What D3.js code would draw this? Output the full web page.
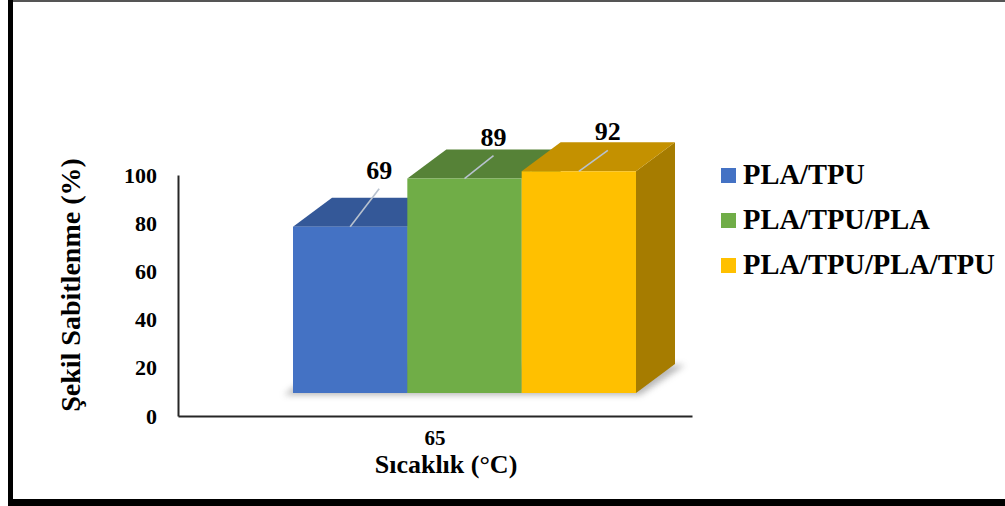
<!DOCTYPE html>
<html>
<head>
<meta charset="utf-8">
<script src="https://cdn.jsdelivr.net/npm/d3@7"></script>
<style>
  html, body { margin: 0; padding: 0; background: #fff; }
  svg { display: block; }
  text { font-family: "Liberation Serif", "Times New Roman", serif; font-weight: bold; fill: #000; }
</style>
</head>
<body>
<svg id="chart" width="1005" height="506"></svg>
<script>
// Shape fixity (%) at 65 °C for the three layer stacks
const categories = ["65"];
const seriesNames = ["PLA/TPU", "PLA/TPU/PLA", "PLA/TPU/PLA/TPU"];
const values = [69, 89, 92];
const yTicks = [0, 20, 40, 60, 80, 100];

// Styling: front, top and side shades per series
const frontColors = ["#4472c4", "#70ad47", "#ffc000"];
const topColors = ["#345898", "#568237", "#c49100"];
const sideColors = ["#2e4e86", "#4a7230", "#a67c00"];

const W = 1005, H = 506;
const svg = d3.select("#chart");

// Layout
const plot = { left: 178, right: 692, top: 175, bottom: 416 };
const depth = { dx: 39, dy: -29 };   // 3D extrusion of each column
const floorLift = 23;                 // front edge of the floor sits above the axis line
const barsOffset = 115;               // front face start inside the category band
const barsWidth = 343;
const labelLift = [48, 33, 31];       // data label distance above each column top

const y = d3.scaleLinear().domain([0, 100]).range([plot.bottom, plot.top]);
const xCat = d3.scaleBand().domain(categories).range([plot.left, plot.right]);
const xSer = d3.scaleBand().domain(seriesNames)
  .range([xCat(categories[0]) + barsOffset, xCat(categories[0]) + barsOffset + barsWidth]);

// Frame
svg.append("rect").attr("x", 8).attr("y", 0).attr("width", 5).attr("height", H).attr("fill", "#000");
svg.append("rect").attr("x", 13).attr("y", 0).attr("width", W - 13).attr("height", 2).attr("fill", "#555");
svg.append("rect").attr("x", 8).attr("y", 499).attr("width", W - 8).attr("height", 7).attr("fill", "#000");

// Soft floor shadow under the columns
const defs = svg.append("defs");
defs.append("filter").attr("id", "soft").attr("x", "-10%").attr("y", "-50%").attr("width", "120%").attr("height", "200%")
  .append("feGaussianBlur").attr("stdDeviation", 3);

const base = y(0) - floorLift;
const x0 = xSer(seriesNames[0]);
const x1 = xSer(seriesNames[seriesNames.length - 1]) + xSer.bandwidth();
svg.append("polygon")
  .attr("points", [
    [x0 - 9, base + 2], [x1 + 4, base + 2],
    [x1 + depth.dx + 10, base + depth.dy + 1], [x0 + depth.dx - 9, base + depth.dy + 1]
  ].map(p => p.join(",")).join(" "))
  .attr("fill", "#9a9a9a").attr("opacity", 0.7).attr("filter", "url(#soft)");

// Axes
const yAxis = svg.append("g").attr("transform", `translate(${plot.left},0)`)
  .call(d3.axisLeft(y).tickValues(yTicks).tickSize(0).tickSizeOuter(0).tickPadding(21));
yAxis.select(".domain").attr("stroke", "#262626").attr("stroke-width", 2);
yAxis.selectAll("text").style("font-size", "22px").attr("font-family", null);

const xAxis = svg.append("g").attr("transform", `translate(0,${plot.bottom})`)
  .call(d3.axisBottom(xCat).tickSize(0).tickSizeOuter(0).tickPadding(14));
xAxis.select(".domain").attr("stroke", "#262626").attr("stroke-width", 2);
xAxis.selectAll("text").style("font-size", "21px").attr("font-family", null);

// Columns (drawn left to right so each front face hides its neighbour's side)
const bars = svg.append("g");
const pts = arr => arr.map(p => p.join(",")).join(" ");
seriesNames.forEach((name, i) => {
  const v = values[i];
  const xl = xSer(name), xr = xl + xSer.bandwidth();
  const yt = y(v) - floorLift;
  const g = bars.append("g");
  // side face
  g.append("polygon").attr("fill", sideColors[i])
    .attr("points", pts([[xr, yt], [xr + depth.dx, yt + depth.dy], [xr + depth.dx, base + depth.dy], [xr, base]]));
  // top face
  g.append("polygon").attr("fill", topColors[i])
    .attr("points", pts([[xl, yt], [xr, yt], [xr + depth.dx, yt + depth.dy], [xl + depth.dx, yt + depth.dy]]));
  // front face
  g.append("rect").attr("x", xl).attr("y", yt).attr("width", xr - xl).attr("height", base - yt)
    .attr("fill", frontColors[i]);
});

// Data labels with leader lines
seriesNames.forEach((name, i) => {
  const v = values[i];
  const cx = xSer(name) + xSer.bandwidth() / 2;
  const yt = y(v) - floorLift;
  const ly = yt - labelLift[i];
  const endX = cx + 29, endY = ly + 10;
  svg.append("line").attr("x1", cx).attr("y1", yt).attr("x2", endX).attr("y2", endY)
    .attr("stroke", "#b8c2cf").attr("stroke-width", 1.6);
  svg.append("text").attr("x", endX).attr("y", ly).attr("text-anchor", "middle")
    .style("font-size", "26px").text(v);
});

// Axis titles
svg.append("text").attr("transform", "translate(80,285) rotate(-90)")
  .attr("text-anchor", "middle").style("font-size", "28px").text("Şekil Sabitlenme (%)");
svg.append("text").attr("x", 446).attr("y", 473).attr("text-anchor", "middle")
  .style("font-size", "26px").text("Sıcaklık (°C)");

// Legend
const legend = svg.append("g");
seriesNames.forEach((name, i) => {
  const cy = 175.5 + i * 45;
  legend.append("rect").attr("x", 721).attr("y", cy - 7.5).attr("width", 15).attr("height", 15)
    .attr("fill", frontColors[i]);
  legend.append("text").attr("x", 743).attr("y", cy + 8.5).style("font-size", "28.5px").text(name);
});
</script>
</body>
</html>
